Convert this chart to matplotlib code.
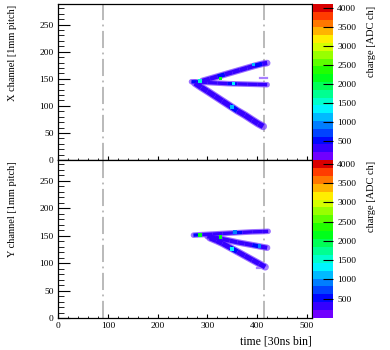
import numpy as np
import matplotlib
matplotlib.use("Agg")
import matplotlib.pyplot as plt
from matplotlib.collections import LineCollection
from matplotlib.colors import ListedColormap, Normalize, hsv_to_rgb
from matplotlib.ticker import MultipleLocator
import matplotlib.cm as cm

plt.rcParams["font.family"] = ["Liberation Serif", "DejaVu Serif"]

# ---------------- data ----------------
# time window markers [30ns bin]
window_t = [90, 414]

# X view: tracks as (time, channel, charge) vertices
x_upper_t = [290, 305, 320, 335, 350, 365, 380, 395, 410, 420]
x_upper_ch = [146, 150, 154, 158, 162, 166, 170, 174, 177.5, 179]
x_upper_q = [350, 250, 500, 300, 250, 400, 250, 450, 300, 200]

x_mid_t = [268, 285, 300, 320, 340, 360, 380, 400, 420]
x_mid_ch = [144.5, 144, 143, 142, 141, 140.5, 140, 139.5, 139]
x_mid_q = [500, 400, 300, 250, 500, 300, 250, 300, 200]

x_low_t = [275, 288, 300, 315, 330, 345, 360, 375, 390, 402, 412]
x_low_ch = [142, 134, 127, 118, 109, 100, 91, 83, 74, 67, 62]
x_low_q = [400, 250, 300, 250, 350, 500, 250, 300, 250, 250, 200]

x_stub_t = [406, 419]
x_stub_ch = [151, 151]

# hot spots (time, channel, charge)
x_spot_t = [285, 326, 352, 349, 393]
x_spot_ch = [146, 151, 141, 98, 176]
x_spot_q = [1500, 2200, 1300, 1200, 1100]

# Y view
y_upper_t = [272, 290, 310, 330, 350, 370, 390, 410, 422]
y_upper_ch = [151, 152, 153, 154, 155, 156, 157, 157.5, 158]
y_upper_q = [500, 400, 300, 250, 500, 300, 250, 350, 200]

y_mid_t = [300, 315, 330, 345, 360, 375, 390, 405, 420]
y_mid_ch = [149, 146.5, 144, 141, 138, 135.5, 133, 130.5, 128]
y_mid_q = [400, 300, 250, 300, 250, 350, 500, 300, 200]

y_low_t = [305, 318, 330, 345, 360, 375, 390, 404, 416]
y_low_ch = [146, 141, 136, 128.5, 121, 113.5, 106, 99, 93]
y_low_q = [350, 400, 300, 500, 300, 250, 300, 250, 200]

y_stub_t = [400, 420]
y_stub_ch = [90.5, 90.5]

y_spot_t = [285, 326, 349, 355, 405]
y_spot_ch = [151, 148, 126, 157, 131]
y_spot_q = [2200, 2100, 1300, 1000, 900]

qmax = 4096
cbar_ticks = [500, 1000, 1500, 2000, 2500, 3000, 3500, 4000]

# ---------------- palette (ROOT-like rainbow, 20 levels) ----------------
hues = np.linspace(0.74, 0.0, 20)
cols = hsv_to_rgb(np.column_stack([hues, np.ones(20), np.ones(20)]))
cols[-1] = [0.85, 0.0, 0.0]
cmap = ListedColormap(cols)
norm = Normalize(0, qmax)

fig = plt.figure(figsize=(3.9, 3.5), dpi=100)
L, W = 58 / 390, 254 / 390
ax_top = fig.add_axes([L, 190 / 350, W, 156 / 350])
ax_bot = fig.add_axes([L, 32 / 350, W, 158 / 350])
cax_top = fig.add_axes([313 / 390, 190 / 350, 20 / 390, 156 / 350])
cax_bot = fig.add_axes([313 / 390, 32 / 350, 20 / 390, 158 / 350])


def draw_track(ax, t, ch, q, lw):
    pts = np.column_stack([t, ch]).reshape(-1, 1, 2)
    segs = np.concatenate([pts[:-1], pts[1:]], axis=1)
    ax.plot(t, ch, color="#7a40ff", lw=lw + 1.6, alpha=0.75,
            solid_capstyle="round", zorder=2)
    lc = LineCollection(segs, cmap=cmap, norm=norm, linewidths=lw,
                        capstyle="butt", zorder=3)
    lc.set_array(np.asarray(q[:-1], dtype=float))
    ax.add_collection(lc)


def style_axis(ax, show_x):
    ax.set_xlim(0, 510)
    ax.set_ylim(0, 288)
    ax.xaxis.set_major_locator(MultipleLocator(100))
    ax.xaxis.set_minor_locator(MultipleLocator(20))
    ax.yaxis.set_major_locator(MultipleLocator(50))
    ax.yaxis.set_minor_locator(MultipleLocator(10))
    ax.tick_params(axis="y", which="major", direction="in", length=8.5,
                   width=0.8, labelsize=6.8, pad=3)
    ax.tick_params(axis="y", which="minor", direction="in", length=4.3,
                   width=0.6)
    ax.tick_params(axis="x", which="major", direction="in", length=3,
                   width=0.8, labelsize=6.8, pad=3, labelbottom=show_x)
    ax.tick_params(axis="x", which="minor", direction="in", length=1.6,
                   width=0.6)
    for s in ax.spines.values():
        s.set_linewidth(0.9)
    for tw in window_t:
        ax.axvline(tw, color="#b4b4b4", lw=1.3,
                   linestyle=(0, (9.5, 2.5, 1, 2.5)), zorder=1)


# X view
style_axis(ax_top, False)
draw_track(ax_top, x_upper_t, x_upper_ch, x_upper_q, 3.2)
draw_track(ax_top, x_mid_t, x_mid_ch, x_mid_q, 2.4)
draw_track(ax_top, x_low_t, x_low_ch, x_low_q, 3.9)
ax_top.plot(x_stub_t, x_stub_ch, color="#a980ff", lw=1.6)
ax_top.scatter(x_spot_t, x_spot_ch, c=x_spot_q, cmap=cmap, norm=norm,
               s=6, marker="s", linewidths=0, zorder=4)

# Y view
style_axis(ax_bot, True)
draw_track(ax_bot, y_upper_t, y_upper_ch, y_upper_q, 2.4)
draw_track(ax_bot, y_mid_t, y_mid_ch, y_mid_q, 3.0)
draw_track(ax_bot, y_low_t, y_low_ch, y_low_q, 3.6)
ax_bot.plot(y_stub_t, y_stub_ch, color="#a980ff", lw=1.6)
ax_bot.scatter(y_spot_t, y_spot_ch, c=y_spot_q, cmap=cmap, norm=norm,
               s=6, marker="s", linewidths=0, zorder=4)

# colour bars
sm = cm.ScalarMappable(norm=norm, cmap=cmap)
for cax in (cax_top, cax_bot):
    cb = fig.colorbar(sm, cax=cax, ticks=cbar_ticks)
    cb.outline.set_visible(False)
    cax.tick_params(direction="in", length=7, width=0.8, labelsize=6.8,
                    pad=3, colors="black")
    cax.minorticks_off()

# labels
fig.text(13 / 390, 1 - 5 / 350, "X channel [1mm pitch]", rotation=90,
         ha="center", va="top", fontsize=7.5)
fig.text(13 / 390, 1 - 161 / 350, "Y channel [1mm pitch]", rotation=90,
         ha="center", va="top", fontsize=7.5)
fig.text(372 / 390, 1 - 6 / 350, "charge [ADC ch]", rotation=90,
         ha="center", va="top", fontsize=7.5)
fig.text(372 / 390, 1 - 161 / 350, "charge [ADC ch]", rotation=90,
         ha="center", va="top", fontsize=7.5)
fig.text(312 / 390, 1 - 342 / 350, "time [30ns bin]", ha="right",
         va="center", fontsize=8.5)

fig.savefig("out.png", dpi=100)
